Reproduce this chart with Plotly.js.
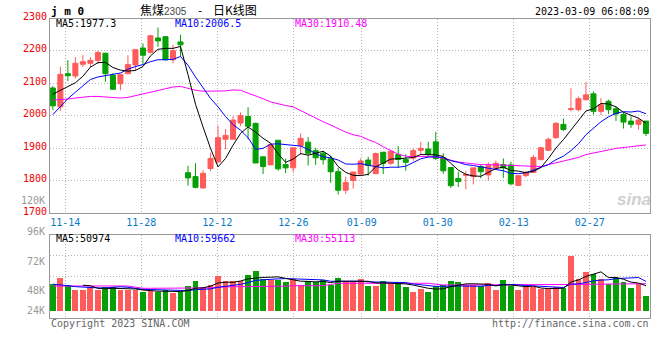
<!DOCTYPE html>
<html><head><meta charset="utf-8">
<script src="https://cdn.plot.ly/plotly-3.0.1.min.js"></script>
<style>html,body{margin:0;padding:0;background:#fff;}#chart{width:660px;height:360px;}</style>
</head><body><div id="chart"></div>
<script>
// ---------- data ----------
const openP = [2086,2028,2130,2123,2159,2162,2171,2193,2125,2099,
 2130,2157,2209,2196,2240,2244,2173,2228,1825,1813,
 1778,1838,1858,1928,1928,1978,1998,1977,1874,1849,
 1925,1850,1840,1908,1919,1893,1885,1868,1828,1771,
 1801,1821,1864,1822,1888,1854,1881,1866,1870,1894,
 1898,1920,1871,1841,1807,1817,1813,1844,1818,1840,
 1850,1849,1786,1816,1826,1865,1894,1933,1974,2020,
 2019,2050,2068,2014,2045,2022,2004,1984,1974,1984];
const highP = [2092,2152,2172,2181,2187,2181,2201,2195,2132,2130,
 2187,2204,2223,2250,2272,2246,2219,2250,1846,1854,
 1833,1887,1970,1960,1999,2011,2027,1979,1874,1916,
 1925,1869,1902,1946,1935,1902,1892,1877,1840,1813,
 1828,1869,1874,1887,1889,1892,1907,1882,1900,1920,
 1920,1951,1885,1841,1828,1831,1840,1850,1857,1862,
 1869,1859,1816,1831,1880,1903,1933,1981,1992,2085,
 2060,2105,2075,2055,2050,2029,2011,1999,1994,1984];
const lowP = [2018,2016,2107,2115,2150,2150,2160,2105,2080,2079,
 2128,2140,2160,2192,2213,2170,2162,2183,1785,1777,
 1776,1830,1858,1897,1928,1968,1928,1855,1821,1849,
 1831,1824,1828,1880,1847,1849,1850,1794,1758,1760,
 1776,1816,1816,1822,1821,1849,1840,1831,1862,1880,
 1874,1864,1822,1778,1781,1774,1789,1808,1801,1835,
 1809,1786,1786,1811,1826,1864,1892,1930,1953,2014,
 2014,2048,2004,2002,2006,1984,1961,1963,1958,1938];
const closeP = [2031,2128,2124,2162,2167,2171,2195,2130,2082,2127,
 2158,2204,2187,2247,2231,2173,2201,2219,1809,1780,
 1823,1869,1933,1940,1987,2001,1968,1855,1844,1911,
 1837,1840,1902,1931,1885,1871,1865,1828,1771,1795,
 1827,1861,1847,1884,1854,1891,1866,1857,1893,1900,
 1882,1869,1831,1785,1798,1819,1840,1828,1847,1854,
 1840,1791,1816,1826,1872,1902,1928,1977,1958,2022,
 2053,2065,2014,2034,2019,2006,1981,1974,1987,1946];
const ma5 = [2067,2079,2090,2102,2122,2150,2164,2165,2149,2141,
 2138,2140,2152,2185,2205,2208,2208,2214,2127,2036,
 1966,1900,1843,1869,1910,1946,1966,1950,1931,1916,
 1883,1857,1867,1884,1879,1886,1891,1876,1844,1826,
 1817,1816,1820,1843,1855,1867,1868,1870,1872,1881,
 1880,1880,1875,1853,1833,1820,1815,1814,1826,1838,
 1842,1832,1830,1825,1829,1841,1869,1901,1927,1957,
 1988,2015,2022,2038,2037,2028,2011,2003,1993,1977.3];
const ma10 = [2004,2030,2053,2073,2093,2112,2120,2125,2128,2132,
 2144,2152,2158,2167,2173,2173,2174,2183,2156,2120,
 2087,2054,2028,1998,1973,1956,1933,1897,1900,1913,
 1914,1911,1908,1907,1897,1884,1874,1871,1864,1852,
 1851,1853,1848,1843,1840,1842,1842,1845,1857,1868,
 1873,1874,1872,1862,1857,1850,1847,1844,1839,1835,
 1831,1823,1822,1825,1833,1841,1850,1865,1876,1893,
 1914,1942,1961,1982,1997,2008,2013,2012,2015,2006.5];
const ma30 = [2049,2050,2052,2055,2058,2060,2060,2058,2055,2055,
 2057,2062,2067,2073,2078,2084,2089,2091,2085,2079,
 2076,2076,2077,2077,2080,2079,2070,2062,2053,2043,
 2037,2032,2028,2016,2006,1994,1982,1972,1961,1950,
 1942,1937,1927,1918,1905,1893,1882,1876,1874,1875,
 1875,1874,1869,1863,1858,1855,1852,1850,1850,1849,
 1849,1848,1847,1846,1845,1844,1850,1856,1861,1867,
 1872,1881,1885,1890,1895,1900,1903,1906,1908,1910.48];
const volume = [55100,67300,52400,42800,42800,48300,42200,47500,47500,42200,
 42800,41400,37300,40200,37300,42800,36100,38800,51000,61200,
 46300,52400,71400,59800,59800,59800,73400,81600,64700,61800,
 63200,57700,65300,53000,59800,57700,63200,52400,66700,59200,
 59200,64700,50400,50400,60600,54500,59200,48300,38100,44900,
 38100,50400,51800,60600,58500,51800,51800,50400,56500,42200,
 62600,50400,42200,47700,47700,43700,43700,47700,45700,112200,
 64700,78900,74900,64700,54500,66700,59200,46300,54500,30600];
const volMa5 = [null,null,null,null,52000,50800,45700,44700,45700,45500,
 44500,44300,42200,40800,39800,39800,38800,39000,41200,45900,
 46700,50000,56500,58100,57900,60600,64900,66900,67900,68300,
 69000,65900,62600,60200,59800,58800,59800,57300,60000,59800,
 60200,60400,60000,56700,57100,56100,55100,54700,52200,49000,
 45700,44100,44700,49200,51800,54700,54900,54700,53900,50600,
 52600,52400,50800,49000,50200,46300,45100,46100,45700,58500,
 62800,69800,75300,79200,67500,67900,64100,58300,56300,50974];
const volMa10 = [54100,53000,51000,49000,47900,46900,46500,46500,47300,48800,
 47700,45100,43500,43200,42600,42200,41600,40600,41000,42800,
 43200,44500,47700,49800,52000,53700,57500,61800,63000,63200,
 64900,65500,64900,64100,64100,63900,62800,60000,60200,59800,
 59600,60200,58800,58300,58500,58100,57700,57300,54500,53000,
 51000,49600,49800,50800,50400,50200,49600,49800,51600,51200,
 53700,53700,52800,51400,50400,49600,48800,48600,47300,54500,
 54700,57500,60800,62400,63000,65500,66900,66900,67700,59662];
const volMa30 = [50400,50400,50400,50400,50400,50400,50400,50400,50400,50400,
 50400,48000,45700,45700,45700,45700,45700,45700,45700,45700,
 45700,46500,48000,49000,49000,49000,49000,49000,49000,49000,
 49000,50000,51000,51000,51000,51000,51000,53500,55900,55900,
 55900,55900,55900,55900,55900,55900,55900,55900,55900,55900,
 55900,54000,52400,52400,52400,52400,52400,52400,52400,52400,
 52400,52400,52400,52400,52400,52400,52400,52400,52400,52800,
 53200,53600,54000,54300,54600,54800,55000,55100,55100,55113];
const tickIndex = [2,12,22,32,41,51,61,71];
const tickLabels = ['11-14','11-28','12-12','12-26','01-09','01-30','02-13','02-27'];
const priceTicks = [1700,1800,1900,2000,2100,2200,2300];
const volTickLabels = ['120K','96K','72K','48K','24K'];
const maPriceLabels = ['MA5:1977.3','MA10:2006.5','MA30:1910.48'];
const maVolLabels = ['MA5:50974','MA10:59662','MA30:55113'];

// ---------- styling ----------
const W = 660, H = 360;
const px = x => x / W, py = y => 1 - y / H;
const MONO = '"DejaVu Sans Mono", monospace';
const CJK = '"Noto Sans CJK SC", sans-serif';
const RED = '#ff5b5b', GREEN = '#06a006';
const GRID = '#b4b4b4', AXIS = '#999999';
const idx = closeP.map((_, i) => i);
const tickPos = tickIndex.map(i => i * 1.0124 - 0.365);
const xRange = [-0.38, 79.53];
const volRange = [-15500, 155000];
const volGrid = [1, 2, 3].map(k => volRange[0] + (volRange[1] - volRange[0]) * k / 4);
const barColors = closeP.map((c, i) => c >= openP[i] ? RED : GREEN);

const line = (y, color, xa, ya) => ({type:'scatter', mode:'lines', x: idx, y: y,
  line:{color: color, width: 1}, hoverinfo:'skip', xaxis: xa, yaxis: ya, connectgaps:false});

const traces = [
  {type:'candlestick', x: idx, open: openP, high: highP, low: lowP, close: closeP,
   increasing:{line:{color:RED, width:1}, fillcolor:RED},
   decreasing:{line:{color:GREEN, width:1}, fillcolor:GREEN},
   whiskerwidth:0, hoverinfo:'skip', xaxis:'x', yaxis:'y'},
  line(ma30, '#ff00ff', 'x', 'y'),
  line(ma10, '#0000ff', 'x', 'y'),
  line(ma5, '#000000', 'x', 'y'),
  {type:'bar', x: idx, y: volume, marker:{color: barColors, line:{width:0}}, width:0.78,
   hoverinfo:'skip', xaxis:'x2', yaxis:'y2'},
  line(volMa30, '#ff00ff', 'x2', 'y2'),
  line(volMa10, '#0000ff', 'x2', 'y2'),
  line(volMa5, '#000000', 'x2', 'y2')
];

const axisCommon = {showgrid:true, gridcolor:GRID, griddash:'1px,2px', gridwidth:1,
  showline:true, mirror:true, linecolor:AXIS, linewidth:1, zeroline:false, ticks:'', fixedrange:true};

const ann = (text, x, y, xanchor, color, size, extra) => Object.assign({
  text: text, x: px(x), y: py(y), xref:'paper', yref:'paper', xanchor: xanchor, yanchor:'middle',
  showarrow:false, borderpad:0, font:{family: MONO, size: size || 10, color: color}}, extra || {});

const annotations = [
  ann('<b>j m 0</b>', 50, 11.5, 'left', '#000', 11),
  ann('焦煤<span style="font-family:Liberation Sans;font-size:10px;color:#444">2305</span>', 139, 9.5, 'left', '#000', 12,
      {font:{family:CJK, size:12, color:'#000'}}),
  ann('-', 200, 9.5, 'center', '#000', 12, {font:{family:CJK, size:12, color:'#000'}}),
  ann('日K线图', 212, 9.5, 'left', '#000', 12, {font:{family:CJK, size:12, color:'#000'}}),
  ann('2023-03-09 06:08:09', 649.5, 12, 'right', '#000', 10),
  ann(maPriceLabels[0], 55, 23.5, 'left', '#000000'),
  ann(maPriceLabels[1], 174, 23.5, 'left', '#0000ff'),
  ann(maPriceLabels[2], 294, 23.5, 'left', '#ff00ff'),
  ann(maVolLabels[0], 55, 238.5, 'left', '#000000'),
  ann(maVolLabels[1], 174, 238.5, 'left', '#0000ff'),
  ann(maVolLabels[2], 294, 238.5, 'left', '#ff00ff'),
  ann('Copyright 2023 SINA.COM', 50, 323.5, 'left', '#666666'),
  ann('http://finance.sina.com.cn', 649.5, 323.5, 'right', '#666666'),
  ann('<b><i>sina</i></b>', 634, 199, 'center', '#d2d2d2', 16,
      {font:{family:'"Liberation Sans", sans-serif', size:17, color:'#d0d0d0'}})
];
const volLabelY = [200, 231, 261, 290.5, 310.5];
volTickLabels.forEach((t, k) => annotations.push(ann(t, 46, volLabelY[k], 'right', '#999999')));

const layout = {
  width: W, height: H, margin:{l:0, r:0, t:0, b:0},
  paper_bgcolor:'#ffffff', plot_bgcolor:'#ffffff',
  showlegend:false, hovermode:false, dragmode:false,
  boxgap:0.33, boxgroupgap:0, bargap:0,
  xaxis: Object.assign({}, axisCommon, {domain:[px(50), px(650)], range:xRange, anchor:'y',
    tickmode:'array', tickvals:tickPos, ticktext:tickLabels,
    tickfont:{family:MONO, size:10, color:'#0a78c8'}, rangeslider:{visible:false}}),
  yaxis: Object.assign({}, axisCommon, {domain:[py(213.3), py(18.5)], range:[1700, 2300], anchor:'x',
    tickmode:'array', tickvals:priceTicks, ticktext:priceTicks.map(String), ticklabelshift:-2,
    tickfont:{family:MONO, size:10, color:'#ee0000'}}),
  xaxis2: Object.assign({}, axisCommon, {domain:[px(50), px(650)], range:xRange, anchor:'y2',
    tickmode:'array', tickvals:tickPos, showticklabels:false}),
  yaxis2: Object.assign({}, axisCommon, {domain:[py(318.3), py(234.7)], range:volRange, anchor:'x2',
    tickmode:'array', tickvals:volGrid, showticklabels:false}),
  annotations: annotations
};

Plotly.newPlot('chart', traces, layout, {displayModeBar:false, staticPlot:true});
</script></body></html>
